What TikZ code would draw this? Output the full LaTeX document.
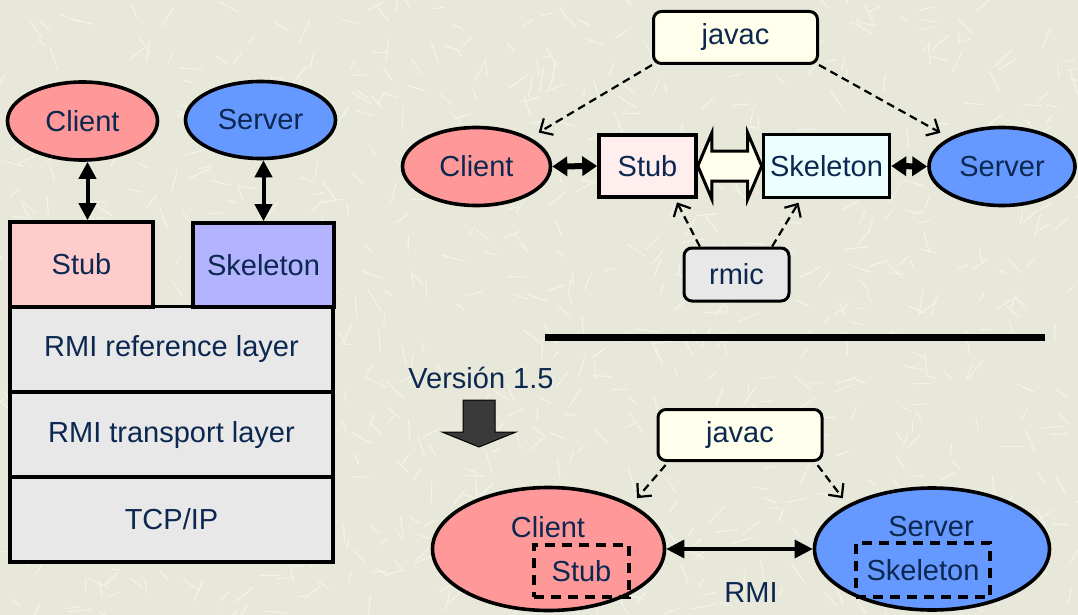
\documentclass[tikz,border=0pt]{standalone}
\usepackage{fontspec}
\setmainfont{Liberation Sans}
\usetikzlibrary{arrows.meta,shapes.geometric,calc}

\definecolor{paper}{RGB}{232,232,218}
\definecolor{scratch}{RGB}{243,243,233}
\definecolor{ink}{RGB}{12,40,80}
\definecolor{clientfill}{RGB}{255,153,153}
\definecolor{serverfill}{RGB}{102,153,255}
\definecolor{stubfill}{RGB}{255,204,204}
\definecolor{skelfill}{RGB}{179,179,255}
\definecolor{layerfill}{RGB}{232,232,232}
\definecolor{stublight}{RGB}{255,238,238}
\definecolor{skellight}{RGB}{236,255,255}
\definecolor{toolfill}{RGB}{255,255,236}
\definecolor{rmicfill}{RGB}{232,232,232}
\definecolor{blockdark}{RGB}{58,58,58}

\begin{document}
\begin{tikzpicture}[x=1pt,y=-1pt,
  every node/.style={font=\fontsize{29}{34}\selectfont, text=ink, inner sep=0pt},
  oval/.style={ellipse, draw=black, line width=3.6pt},
  box/.style={rectangle, draw=black, line width=3.6pt},
  tool/.style={rectangle, rounded corners=8pt, draw=black, line width=3pt},
  ghost/.style={rectangle, draw=black, line width=3.6pt, dash pattern=on 10pt off 7pt},
  vlink/.style={line width=4pt, {Triangle[width=17pt,length=17pt]}-{Triangle[width=17pt,length=17pt]}},
  hlink/.style={line width=6pt, {Triangle[width=19pt,length=15pt]}-{Triangle[width=19pt,length=15pt]}},
  rmilink/.style={line width=3.4pt, {Triangle[width=18pt,length=18pt]}-{Triangle[width=18pt,length=18pt]}},
  gen/.style={line width=2.2pt, dash pattern=on 8pt off 5pt, -{Straight Barb[length=10pt,width=19pt]}},
  ]

% paper background with light scratches
\fill[paper] (0,0) rectangle (1078,615);
\useasboundingbox (0,0) rectangle (1078,615);
\pgfmathsetseed{1234}
\foreach \i in {1,...,900}{
  \pgfmathsetmacro{\px}{1078*rnd}
  \pgfmathsetmacro{\py}{615*rnd}
  \pgfmathsetmacro{\pa}{360*rnd}
  \pgfmathsetmacro{\pl}{8+16*rnd}
  \draw[scratch, line width=1.1pt, line cap=round] (\px,\py) -- ++(\pa:\pl);
}

% ---------- layered architecture ----------
\node[box, fill=layerfill, minimum width=323, minimum height=85] (refl) at (171.5,349) {RMI reference layer};
\node[box, fill=layerfill, minimum width=323, minimum height=85] (tranl) at (171.5,434.5) {RMI transport layer};
\node[box, fill=layerfill, minimum width=323, minimum height=85] (tcpl) at (171.5,519.5) {TCP/IP};
\node[box, fill=stubfill, minimum width=143, minimum height=85] (lstub) at (81.5,264.5) {Stub};
\node[box, fill=skelfill, minimum width=141, minimum height=84] (lskel) at (263.5,265) {Skeleton};
\node[oval, fill=clientfill, minimum width=150, minimum height=78] (lcli) at (82.5,121) {Client};
\node[oval, fill=serverfill, minimum width=150, minimum height=77] (lsrv) at (260.5,120) {Server};
\draw[vlink] ([xshift=5pt]lcli.south) -- ([xshift=5pt]lcli.south |- lstub.north);
\draw[vlink] (lsrv.south -| lskel.north) -- (lskel.north);

% ---------- compilation with rmic ----------
\node[tool, fill=toolfill, minimum width=164, minimum height=52] (jv) at (735.5,37.5) {javac};
\node[oval, fill=clientfill, minimum width=148, minimum height=78] (cli) at (476.5,166.5) {Client};
\node[box, fill=stublight, minimum width=97, minimum height=62] (stub) at (647.5,166) {Stub};
\node[box, fill=skellight, minimum width=126, minimum height=63] (skel) at (826.5,166) {Skeleton};
\node[oval, fill=serverfill, minimum width=146, minimum height=78] (srv) at (1002,166.5) {Server};
\node[tool, fill=rmicfill, minimum width=105, minimum height=53] (rm) at (736.5,274.5) {rmic};

\path (stub.east) coordinate (bl) (skel.west) coordinate (br);
\draw[line width=3pt, fill=toolfill] (bl) -- ++(14,-33) -- ++(0,18)
  -- ($(br)+(-14,-15)$) -- ++(0,-18) -- (br) -- ++(-14,33) -- ++(0,-18)
  -- ($(bl)+(14,15)$) -- ++(0,18) -- cycle;

\draw[hlink] (cli.east) -- (stub.west);
\draw[hlink] (skel.east) -- (srv.west);

\draw[gen, shorten >=10pt] (jv.south west) -- (cli.north east);
\draw[gen, shorten >=10pt] (jv.south east) -- (srv.north west);
\draw[gen, shorten >=4pt] ($(rm.north west)!0.16!(rm.north east)$) -- ($(stub.south)!0.55!(stub.south east)$);
\draw[gen, shorten >=4pt] ($(rm.north west)!0.83!(rm.north east)$) -- ($(skel.south west)!0.6!(skel.south)$);

% divider
\draw[line width=7pt] (545,337) -- (1045,337);

% ---------- Java 1.5 ----------
\node (ver) at (481,378) {Versión 1.5};
\filldraw[fill=blockdark, draw=black, line width=1pt]
  (463,400) -- (495,400) -- (495,432) -- (516,432) -- (479,447) -- (442,432) -- (463,432) -- cycle;

\node[tool, fill=toolfill, minimum width=164, minimum height=51] (jv2) at (740,435) {javac};
\node[oval, fill=clientfill, minimum width=232, minimum height=123] (cl2) at (548.5,549) {};
\node[oval, fill=serverfill, minimum width=235, minimum height=122] (sv2) at (932,549) {};
\node (cl2t) at (548,527) {Client};
\node (sv2t) at (931,527) {Server};
\node[ghost, minimum width=95, minimum height=52] (stub2) at (581.5,571) {Stub};
\node[ghost, minimum width=134, minimum height=54] (skel2) at (923,570) {Skeleton};

\draw[rmilink] (cl2.east) -- (sv2.west);
\node (rmil) at (751,593) {RMI};

\draw[gen, shorten <=4pt, shorten >=8pt] ($(jv2.south west)!0.07!(jv2.south east)$) -- (cl2.north east);
\draw[gen, shorten <=4pt, shorten >=8pt] ($(jv2.south west)!0.95!(jv2.south east)$) -- (sv2.north west);

\end{tikzpicture}
\end{document}
